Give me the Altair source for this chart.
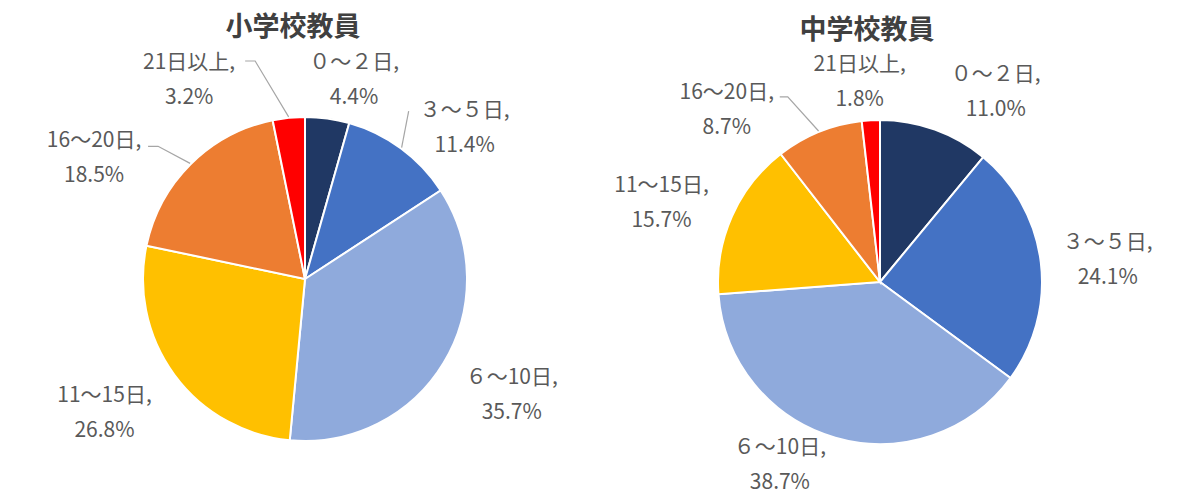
import altair as alt
import pandas as pd

# ---------------- data ----------------
categories = ["０～２日", "３～５日", "６～10日", "11～15日", "16～20日", "21日以上"]
elementary = [4.4, 11.4, 35.7, 26.8, 18.5, 3.2]
junior = [11.0, 24.1, 38.7, 15.7, 8.7, 1.8]
schools = ["小学校教員", "中学校教員"]
colors = ["#203864", "#4472C4", "#8FAADC", "#FFC000", "#ED7D31", "#FF0000"]

# ---------------- layout (pixels, not data) ----------------
W, H = 1184, 488
R = 162
CENTERS = {"小学校教員": (297, 271), "中学校教員": (872, 274)}
TITLE_POS = {"小学校教員": (285, 20), "中学校教員": (859, 23)}
LINE_H = 35
# label: angle nudge from slice middle (deg), distance from centre (px)
LABEL_LAYOUT = {
    "小学校教員": [(5.8, 207), (9.9, 221), (-2.3, 236), (3.0, 240), (-15.0, 244), (-24.2, 232)],
    "中学校教員": [(11.3, 224), (1.0, 229), (12.9, 207), (-3.6, 233), (-19.2, 232), (-2.5, 203)],
}
# leader lines: two points given as offsets from the label centre, then the slice edge
LEADERS = {
    ("小学校教員", 1): (-56, -15, -56, -15),
    ("小学校教員", 4): (54, -10, 64, -10),
    ("小学校教員", 5): (56, -17, 66, -17),
    ("中学校教員", 4): (53, -11, 61, -11),
}

rows = []
for s, vals in zip(schools, [elementary, junior]):
    for i, (c, v) in enumerate(zip(categories, vals)):
        nd, lr = LABEL_LAYOUT[s][i]
        ld = LEADERS.get((s, i))
        rows.append(dict(
            school=s, category=c, value=v, order=i,
            label=f"{c},\n{v:.1f}%",
            nudge=nd, lr=lr,
            lead=1 if ld else 0,
            ox0=ld[0] if ld else 0, oy0=ld[1] if ld else 0,
            ox1=ld[2] if ld else 0, oy1=ld[3] if ld else 0,
        ))
df = pd.DataFrame(rows)
titles_df = pd.DataFrame({"school": schools})

FONT = "Noto Sans CJK JP"
xs = alt.Scale(domain=[0, W], range=[0, W], nice=False, zero=False)
ys = alt.Scale(domain=[0, H], range=[0, H], nice=False, zero=False)
color = alt.Color("category:N", scale=alt.Scale(domain=categories, range=colors), legend=None)

layers = []
for s in schools:
    cx, cy = CENTERS[s]
    base = alt.Chart(df).transform_filter(alt.datum.school == s)

    arcs = base.mark_arc(radius=R, stroke="white", strokeWidth=2).encode(
        theta=alt.Theta("value:Q", stack=True),
        color=color,
        order=alt.Order("order:Q"),
        x=alt.value(cx),
        y=alt.value(cy),
    )

    geo = base.transform_joinaggregate(total="sum(value)").transform_window(
        cum="sum(value)", sort=[alt.SortField("order")], frame=[None, 0]
    ).transform_calculate(
        frac="(datum.cum - datum.value / 2) / datum.total"
    ).transform_calculate(
        la="(datum.frac * 360 + datum.nudge) * PI / 180",
        ea="datum.frac * 2 * PI",
    ).transform_calculate(
        lx=f"{cx} + datum.lr * sin(datum.la)",
        ly=f"{cy} - datum.lr * cos(datum.la)",
        ex=f"{cx} + {R + 1} * sin(datum.ea)",
        ey=f"{cy} - {R + 1} * cos(datum.ea)",
    )

    labels = geo.mark_text(
        font=FONT, fontSize=21, color="#595959", align="center", baseline="middle",
        lineBreak="\n", lineHeight=LINE_H, dy=-15,
    ).encode(
        x=alt.X("lx:Q", scale=xs, axis=None),
        y=alt.Y("ly:Q", scale=ys, axis=None),
        text="label:N",
    )

    leaders = geo.transform_filter(alt.datum.lead == 1).transform_calculate(
        x0="datum.lx + datum.ox0", y0="datum.ly + datum.oy0",
        x1="datum.lx + datum.ox1", y1="datum.ly + datum.oy1",
        x2="datum.ex", y2="datum.ey",
    ).transform_fold(["x0", "x1", "x2"], as_=["pt", "px"]).transform_calculate(
        py="datum.pt == 'x0' ? datum.y0 : (datum.pt == 'x1' ? datum.y1 : datum.y2)",
        idx="datum.pt == 'x0' ? 0 : (datum.pt == 'x1' ? 1 : 2)",
    ).mark_line(color="#A6A6A6", strokeWidth=1.2).encode(
        x=alt.X("px:Q", scale=xs, axis=None),
        y=alt.Y("py:Q", scale=ys, axis=None),
        detail="category:N",
        order=alt.Order("idx:Q"),
    )

    tx, ty = TITLE_POS[s]
    title = alt.Chart(titles_df).transform_filter(alt.datum.school == s).mark_text(
        font=FONT, fontSize=27, fontWeight="bold", color="#404040",
        align="center", baseline="middle",
    ).encode(text="school:N", x=alt.value(tx), y=alt.value(ty))

    layers += [arcs, leaders, labels, title]

chart = alt.layer(*layers).resolve_scale(theta="independent").properties(
    width=W, height=H, autosize=alt.AutoSizeParams(type="none"), padding=0,
    background="white",
).configure_view(stroke=None)

chart.save("out.html", embed_options={"renderer": "svg", "actions": False})
